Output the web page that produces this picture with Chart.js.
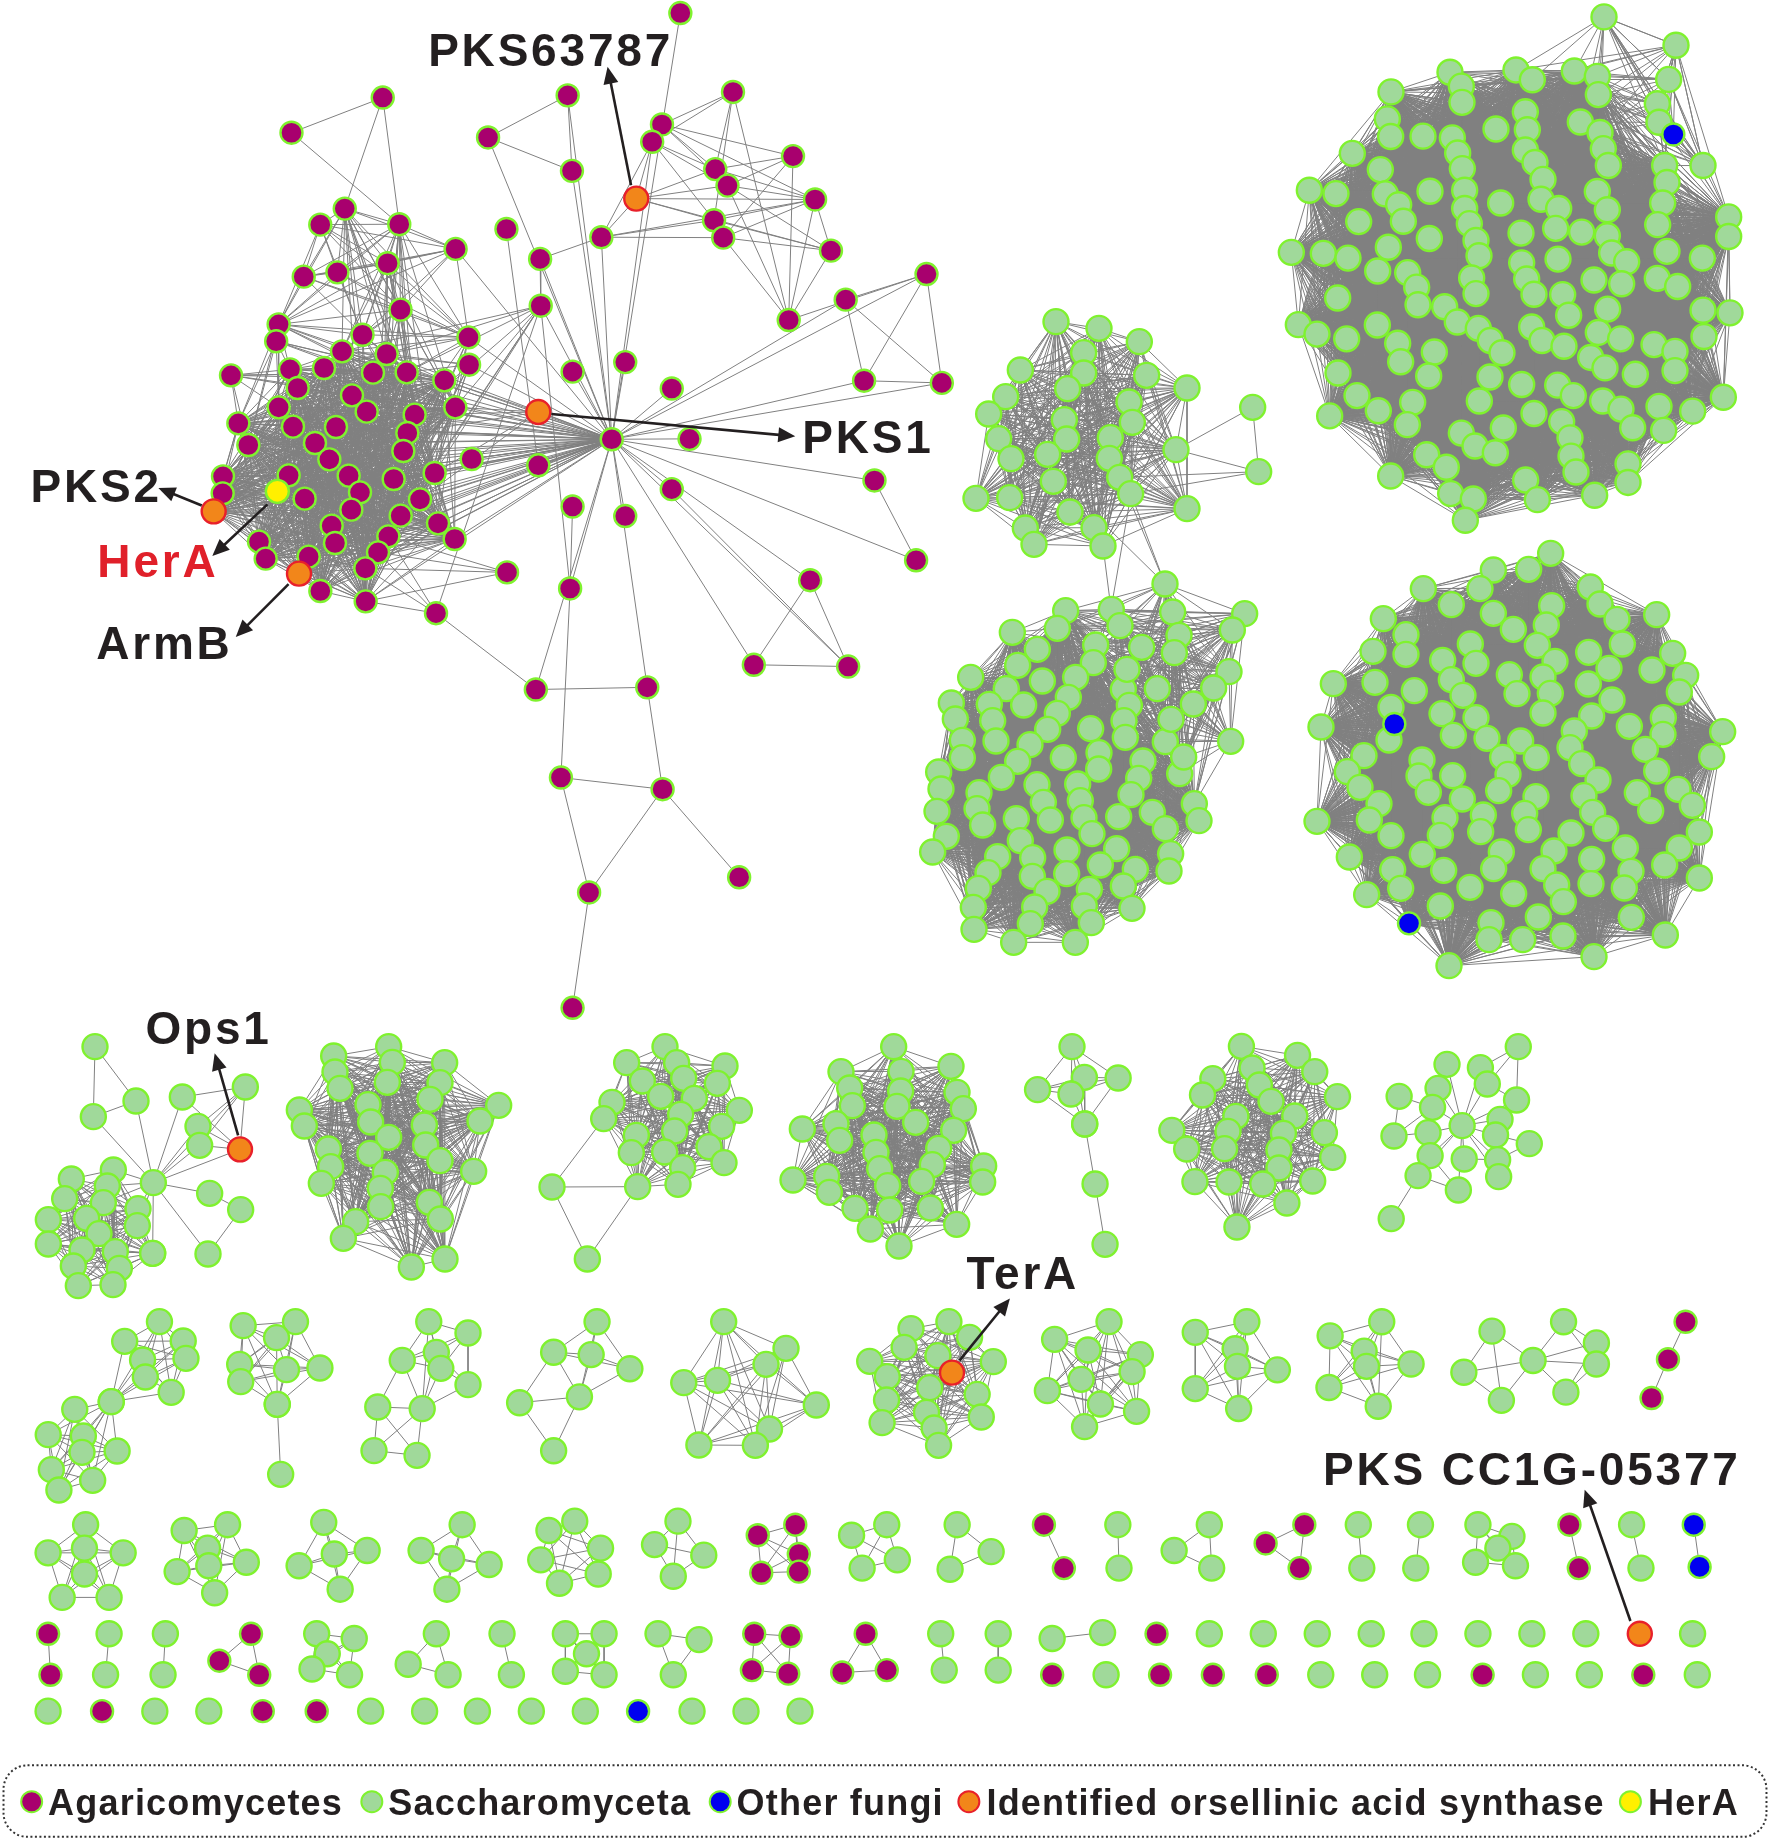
<!DOCTYPE html>
<html><head><meta charset="utf-8">
<style>html,body{margin:0;padding:0;background:#fff}#w{position:relative;width:1770px;height:1839px}#c{display:block}</style>
<script src="https://cdn.jsdelivr.net/npm/chart.js@4"></script>
</head><body><div id="w"><canvas id="c"></canvas></div>
<script>
const F_TOP={ox:0,oy:0,sx:1.633,sy:2.306}, F_CORE={ox:180,oy:300,sx:3,sy:3}, F_TR={ox:1260,oy:0,sx:3,sy:2.96},
 F_BR={ox:1290,oy:530,sx:3,sy:3}, F_MID={ox:900,oy:560,sx:3,sy:3}, F_SM={ox:950,oy:300,sx:3,sy:3},
 F_R1A={ox:20,oy:1020,sx:3,sy:3}, F_R1B={ox:530,oy:1020,sx:3,sy:3}, F_R1C={ox:1020,oy:1020,sx:2.904,sy:3},
 F_R2A={ox:20,oy:1300,sx:2.904,sy:3}, F_R2B={ox:650,oy:1290,sx:2.904,sy:3}, F_S={ox:0,oy:0,sx:1509/1770,sy:1568/1839};

const seriesNames=['Agaricomycetes','Saccharomyceta','Other fungi','Identified orsellinic acid synthase','HerA'];

const topNodes=[[1111,30],[625,225],[476,306],[927,220],[797,317],[934,394],[1197,212],[1081,287],[1065,327],[1295,360],
[1168,390],[1188,428],[1331,460],[1166,508],[1181,548],[1357,578],[982,547],[1513,632],[1381,691],[1288,738],
[1411,878],[1538,883],[827,528],[882,597],[883,705],[563,481],[523,518],[652,517],[744,574],[496,638],
[551,628],[633,607],[654,714],[935,857],[1021,835],[1097,896],[1126,1012],[879,1073],[1097,1128],[935,1168],
[1021,1190],[1428,1108],[1496,1292],[1323,1338],[1231,1533],[1385,1537],[828,1320],[931,1357],[712,1414],[875,1590],
[1057,1585],[916,1793],[1082,1820],[1207,2023],[962,2058],[935,2324],[999,1013],[455,748],[451,787],[592,772],
[765,778],[766,841]];
const topSpecial=[[1039,458],[879,950]];
const coreNodes=[[330,208],[486,154],[432,204],[620,162],[579,218],[680,217],[793,241],[353,264],[826,322],[296,322],
[516,286],[560,335],[704,344],[175,370],[339,380],[468,381],[682,399],[205,435],[405,429],[670,453],
[448,478],[129,529],[326,526],[506,527],[764,519],[641,537],[540,577],[128,580],[374,596],[720,598],
[514,629],[662,647],[774,670],[455,677],[824,717],[625,709],[237,725],[465,729],[594,757],[257,776],
[386,770],[556,805],[421,873],[557,904]];
const coreSide=[[875,477],[153,226]];
const coreOrsellinic=[[101,634],[357,821]];
const coreHerA=[[292,574]];
const topEdges=[[1,2],[1,25],[1,27],[2,27],[3,4],[3,5],[4,5],[6,7],[6,8],[6,10],[6,13],[6,19],[7,9],[7,10],[7,11],[7,12],[8,10],[8,11],[8,13],[8,16],
[9,10],[9,11],[9,19],[9,14],[10,11],[10,12],[11,12],[11,15],[11,19],[12,13],[12,14],[12,15],[12,16],[12,19],[13,14],[13,15],[13,16],[14,15],[14,16],[14,19],[15,19],
[62,8],[62,10],[62,11],[62,12],[62,15],[62,16],[62,13],[17,18],[17,19],[17,20],[17,21],[18,20],[18,21],[20,21],[41,42],[43,44],[43,45],[44,45],[38,45],
[22,37],[23,24],[23,16],[24,47],[24,48],[48,49],[49,50],[50,52],[51,52],[51,54],[52,54],[52,53],[54,55],[47,51],[39,47],[63,56]];
const hubSpokes=[0,3,4,5,8,16,17,18,20,21,23,24,28,33,34,35,36,37,38,40,41,42,43,44,45,47,49,50,60,61];
const upperGroup=[25,26,27,28,29,30,31,32,57,59,60];
const upperReach=[25,27,31,32,59,60,61,24];
const coreAnchors=[1,3,5,8,12,24,38,41];
const pks1Anchors=[6,8,12,16,24,29];
const lateralAnchors=[35,38,41,43];

const trMain=[[570,214],[768,207],[817,236],[943,210],[1012,226],[1015,280],[604,255],[606,303],[393,272],[796,331],
[382,352],[961,361],[392,404],[489,403],[708,382],[802,384],[577,408],[1020,392],[593,453],[796,444],[1030,440],
[277,454],[825,481],[607,499],[1214,490],[1045,490],[361,502],[849,531],[1221,540],[148,563],[228,573],[510,566],
[614,563],[376,574],[416,606],[1012,567],[843,590],[722,601],[1208,601],[614,617],[1042,621],[896,617],[1406,642],
[430,655],[296,656],[628,662],[1193,665],[887,676],[965,687],[1406,700],[508,706],[783,690],[648,712],[1042,698],
[385,732],[94,747],[190,750],[264,764],[657,757],[1055,749],[1100,775],[1221,744],[1327,764],[785,778],[894,767],
[443,807],[353,802],[635,823],[800,826],[1002,829],[1192,824],[1253,848],[1085,840],[470,850],[648,869],[822,871],
[233,882],[908,872],[474,902],[554,908],[1043,915],[1329,918],[1410,926],[926,933],[592,953],[352,962],[115,961],
[815,968],[655,972],[171,989],[1015,984],[1082,1003],[1332,996],[260,1003],[413,1016],[846,1008],[691,1008],[912,1025],
[1182,1020],[1245,1040],[523,1042],[726,1044],[422,1071],[992,1058],[1035,1089],[1245,1097],[234,1104],[506,1113],[690,1116],
[1126,1108],[785,1138],[893,1140],[940,1171],[1390,1176],[291,1171],[658,1187],[1028,1187],[458,1191],[1083,1211],[355,1216],
[1197,1203],[209,1231],[822,1224],[1298,1217],[905,1248],[442,1257],[1118,1266],[730,1267],[1211,1274],[604,1282],[930,1296],
[645,1320],[706,1340],[933,1350],[500,1346],[559,1383],[392,1409],[1104,1373],[948,1397],[797,1421],[1104,1428],[572,1461],
[640,1477],[832,1479],[1004,1466],[616,1540]];
const trFringe=[[1032,50],[1248,134],[1226,235],[1192,307],[1197,362],[1329,490]];
const trFringeAnchors=[[768,207],[817,236],[943,210],[1012,226],[1015,280],[961,361],[1020,392],[1406,642],[1214,490]];
const trOther=[[1240,398]];

const brMain=[[782,70],[610,120],[716,118],[400,176],[570,176],[901,171],[484,224],[930,222],[785,227],[1100,254],[280,266],
[610,250],[981,268],[769,285],[670,298],[348,314],[997,342],[742,346],[541,342],[249,364],[348,373],[896,367],[1148,370],
[458,391],[795,394],[558,400],[957,415],[1086,420],[130,461],[658,434],[759,441],[255,457],[1187,436],[484,449],[373,482],
[681,491],[895,462],[781,490],[1168,486],[519,496],[303,532],[966,510],[456,551],[759,549],[905,558],[558,563],[93,591],
[1120,563],[1018,589],[853,603],[490,616],[1119,613],[1298,605],[591,625],[297,630],[692,633],[840,653],[1066,658],[1265,680],
[222,677],[739,683],[638,682],[875,701],[396,690],[172,725],[1100,723],[488,737],[654,733],[387,738],[924,750],[1164,778],
[210,772],[415,787],[626,782],[1042,788],[882,797],[738,800],[267,821],[517,807],[704,850],[1207,826],[908,847],[1082,842],
[465,863],[580,855],[238,870],[81,874],[947,895],[715,899],[572,905],[451,916],[1228,906],[303,917],[843,909],[1006,954],
[792,963],[1168,954],[634,966],[397,973],[178,981],[905,988],[1124,1005],[1023,1024],[611,1016],[759,1016],[461,1021],[308,1019],
[800,1065],[1228,1044],[903,1061],[332,1075],[540,1072],[1003,1074],[671,1091],[230,1094],[820,1115],[451,1128],[745,1161],
[1024,1162],[603,1178],[1126,1215],[819,1218],[698,1229],[597,1229],[912,1280],[477,1307]];
const brOther=[[313,582],[357,1180]];

const midMain=[[497,152],[472,205],[337,217],[412,268],[587,255],[353,316],[580,308],[212,352],[427,363],[527,352],[319,386],
[670,388],[154,429],[268,433],[371,435],[505,412],[688,436],[166,477],[472,460],[278,482],[672,482],[443,508],[572,506],[187,541],
[288,543],[676,532],[796,545],[390,554],[597,578],[187,593],[490,593],[729,603],[353,604],[116,636],[596,627],[839,641],[304,652],
[716,655],[123,687],[411,674],[533,672],[237,698],[693,704],[541,722],[430,727],[883,731],[231,746],[111,754],[757,757],[656,770],
[451,780],[349,776],[552,773],[897,782],[248,795],[796,806],[139,829],[361,842],[576,821],[98,876],[293,890],[501,870],[650,866],
[398,893],[812,881],[601,915],[706,928],[264,938],[500,941],[807,933],[397,949],[441,994],[235,985],[670,978],[568,988],[404,1041],
[220,1042],[553,1038],[696,1045],[391,1091],[574,1088],[222,1108],[341,1147],[526,1147]];
const midFringe=[[795,72],[634,148],[818,156],[1034,161],[660,197],[837,226],[997,210],[725,262],[823,278],[681,328],[987,335],[772,386],[941,384],[880,432],[992,544],[813,478],[851,591]];
const midFringeAnchors=[[587,255],[580,308],[497,152],[472,205],[670,388],[688,436],[796,545],[839,641],[883,731],[672,482],[676,532]];

const smallMain=[[318,65],[447,85],[568,125],[401,158],[211,210],[590,226],[401,219],[711,264],[353,266],[167,290],[537,306],[116,342],
[343,359],[547,367],[350,417],[146,416],[481,413],[678,449],[183,476],[293,463],[478,475],[310,544],[509,532],[542,581],[78,595],[179,593],
[711,626],[360,636],[226,684],[432,683],[252,733],[459,738]];
const smallTail=[[908,322],[926,515],[678,449],[509,532],[542,581]];
const smallTailEdges=[[0,1],[0,2],[1,2],[1,3],[1,4]];
const bridgeLinks=[[1131,494,1165,584],[1120,477,1165,584],[1103,546,1111,609],[1131,494,1111,609],[1108,528,1165,584]];

const opsStar=[[225,80],[348,243],[220,290],[487,231],[676,201],[534,319],[539,376],[400,488],[569,520],[662,569],[564,702],[398,700]];
const opsStarEdges=[[0,1],[0,2],[1,2],[2,7],[1,7],[3,7],[5,7],[6,7],[4,7],[8,7],[10,7],[11,7],[3,4],[5,4],[6,4],[8,9],[9,10]];
const opsSynthase=[[660,388]];
const opsDense=[[280,450],[154,477],[262,498],[134,536],[250,548],[354,566],[85,599],[200,595],[352,617],[237,641],[85,672],[186,690],[286,695],[160,738],[298,745],[175,797],[279,794],[398,700]];
const opsHubLinks=[[280,450],[262,498],[354,566],[250,548],[352,617]];
const opsSynthaseLinks=[[487,231],[534,319],[539,376],[676,201],[400,488]];
const clusterB=[[941,108],[1106,80],[1117,127],[1274,128],[945,156],[960,205],[1102,187],[1260,188],[1436,256],[1230,238],[838,270],[1044,254],[853,318],[1380,303],[1052,306],[1213,315],[1106,352],[925,387],[1217,375],[1050,400],[932,440],[1260,422],[1361,454],[1096,457],[904,490],[1081,505],[1082,560],[1228,547],[1007,605],[1261,597],[970,655],[1275,717],[1174,741]];
const clusterE=[[405,80],[290,128],[440,128],[585,138],[337,183],[461,175],[562,190],[392,229],[493,235],[246,247],[628,271],[221,296],[452,283],[575,319],[434,333],[319,346],[304,398],[537,380],[404,396],[582,428],[458,443],[323,500],[444,493]];
const clusterETail=[[66,501],[172,717],[221,296],[323,500]];
const clusterETailEdges=[[0,1],[0,2],[0,3],[1,3]];
const clusterF=[[1091,80],[933,155],[1263,139],[1113,154],[959,204],[1112,213],[1281,217],[967,257],[1101,259],[1300,266],[1157,307],[817,327],[918,311],[1271,331],[929,361],[1032,345],[1226,385],[1038,397],[1207,434],[1361,438],[1049,446],[789,480],[890,469],[1175,484],[1358,486],[1073,497],[898,517],[975,565],[1201,564],[1079,570],[1280,613],[1021,627],[1107,678]];
const clusterG=[[151,80],[51,209],[187,172],[285,174],[148,222],[188,312]];
const clusterGTail=[[188,312],[218,492],[247,673]];
const chain3=[[0,1],[1,2]];
const clusterH=[[643,79],[806,106],[674,144],[856,155],[560,176],[695,195],[922,230],[530,225],[729,244],[627,289],[798,288],[441,331],[604,334],[765,340],[884,338],[484,387],[594,386],[752,390],[908,412],[752,444],[508,485],[607,486],[705,492],[850,483],[775,549],[630,621]];
const clusterI=[[1284,317],[1447,80],[1240,133],[1337,143],[1357,192],[1214,205],[1101,229],[1198,262],[1442,240],[1394,298],[1086,348],[1185,338],[1381,345],[1479,371],[1191,407],[1290,417],[1387,419],[1390,470],[1156,467],[1273,510],[1078,596]];
const clusterIEdges=[[0,2],[0,3],[0,4],[0,5],[0,7],[0,8],[0,9],[0,11],[0,12],[0,14],[0,15],[0,16],[0,17],[0,19],[0,18],[20,18],[18,19],[14,19],[10,6],[10,7],[10,11],[6,7],[1,3],[1,4],[1,8],[8,4],[13,12],[13,16],[16,15],[11,14],[9,12]];
const clusterJ=[[405,65],[304,124],[474,123],[356,180],[482,175],[364,231],[439,277],[265,305]];
const clusterJ2=[[265,305],[159,328],[82,404],[184,408],[180,457],[282,453],[91,509],[211,541],[113,570]];
const clusterK=[[648,77],[800,65],[745,113],[638,193],[641,245],[774,209],[871,204],[747,313]];
const clusterKTail=[[747,313],[757,523]];
const pairEdge=[[0,1]];
const clusterL=[[1187,65],[1301,99],[1209,157],[1110,181],[1222,205],[1301,254],[1039,321],[1168,326],[1028,452],[1153,466]];
const clusterLEdges=[[0,1],[0,2],[0,3],[0,4],[1,2],[1,3],[1,4],[1,5],[2,3],[2,4],[3,4],[2,5],[4,5],[7,5],[7,4],[7,2],[7,3],[7,0],[3,6],[6,7],[6,8],[6,9],[7,8],[7,9],[8,9]];
const clusterM=[[509,1127],[472,1153],[504,1155],[537,1167],[494,1191],[443,1196],[472,1237]];
const clusterMEdges=[[0,1],[0,2],[0,3],[0,4],[1,2],[1,3],[1,4],[2,3],[2,4],[3,4],[5,1],[5,4],[5,6],[6,4]];
const clusterN=[[214,95],[395,175],[337,223],[98,278],[196,271],[483,345],[347,417],[142,465],[306,466]];
const clusterO=[[758,116],[868,95],[928,142],[738,172],[836,197],[638,214],[997,215],[689,260],[812,293],[950,313],[687,330],[803,367],[962,381],[674,398],[825,414],[838,466]];
const terASynthase=[[877,248]];
const clusterP=[[1333,95],[1175,148],[1272,180],[1424,194],[1400,245],[1252,268],[1154,302],[1308,342],[1413,364],[1262,410]];
const clusterQ=[[1019,1136],[1063,1127],[1053,1150],[1055,1165],[1089,1168],[1019,1184],[1056,1201]];
const clusterR=[[1134,1139],[1178,1127],[1163,1152],[1165,1165],[1203,1163],[1133,1183],[1175,1199]];
const clusterS=[[1272,1135],[1333,1127],[1248,1170],[1307,1160],[1361,1145],[1361,1163],[1280,1194],[1335,1187]];
const clusterSEdges=[[0,2],[0,3],[0,6],[2,6],[2,3],[6,3],[1,3],[1,4],[1,5],[4,5],[7,3],[7,4],[7,5],[3,4],[3,5]];
const clusterT=[[1437,1127],[1422,1159],[1408,1192]];

const greenComplete=[
[[73,1300],[41,1324],[72,1320],[105,1324],[72,1342],[53,1362],[93,1362]],
[[157,1305],[194,1300],[177,1320],[151,1340],[210,1332],[178,1335],[183,1358]],
[[276,1298],[255,1335],[285,1325],[313,1322],[290,1355]],
[[394,1300],[359,1322],[385,1329],[417,1334],[381,1355]],
[[490,1297],[468,1305],[512,1320],[461,1330],[510,1342],[477,1350]],
[[578,1297],[558,1317],[600,1326],[574,1344]],
[[756,1300],[726,1309],[765,1330],[735,1337]],
[[816,1300],[845,1323],[810,1338]],
[[953,1300],[954,1337]],
[[1031,1300],[1001,1322],[1033,1337]],
[[1158,1300],[1161,1337]],
[[1211,1300],[1207,1337]],
[[1260,1300],[1289,1310],[1277,1320],[1258,1332],[1292,1335]],
[[1391,1300],[1399,1337]],
[[93,1393],[90,1428]],
[[141,1393],[139,1428]],
[[270,1393],[302,1397],[279,1410],[266,1423],[298,1428]],
[[372,1393],[348,1419],[382,1428]],
[[428,1393],[436,1428]],
[[482,1393],[515,1393],[500,1410],[482,1425],[515,1428]],
[[561,1393],[596,1398],[574,1428]],
[[802,1393],[805,1424]],
[[851,1393],[851,1424]],
[[897,1397],[940,1392]]];
const purpleComplete=[
[[646,1309],[678,1300],[681,1325],[649,1341],[681,1340]],
[[890,1300],[907,1337]],
[[1112,1300],[1079,1316],[1108,1337]],
[[1338,1300],[1346,1337]],
[[41,1393],[43,1428]],
[[214,1393],[187,1416],[221,1428]],
[[643,1393],[674,1395],[641,1424],[672,1427]],
[[738,1393],[718,1426],[756,1424]]];
const blueComplete=[[[1444,1300],[1449,1336]]];
const singlesGreen=[[1031,1393],[1077,1393],[1123,1393],[1169,1393],[1214,1393],[1260,1393],[1306,1393],[1352,1393],[1443,1393],
[943,1428],[1126,1428],[1172,1428],[1217,1428],[1309,1428],[1355,1428],[1447,1428],
[41,1459],[132,1459],[178,1459],[316,1459],[362,1459],[407,1459],[453,1459],[499,1459],[590,1459],[636,1459],[682,1459]];
const singlesPurple=[[986,1393],[897,1428],[989,1428],[1034,1428],[1080,1428],[1264,1428],[1401,1428],[87,1459],[224,1459],[270,1459]];
const singlesBlue=[[544,1459]];
const singlesSynthase=[[1398,1393]];

const labelTexts=['PKS63787','PKS1','PKS2','HerA','ArmB','Ops1','TerA','PKS CC1G-05377'];
const labelX=[365,684,26,83,82,124,824,1128];
const labelY=[56,386,428,492,562,890,1099,1266];
const arrowFrom=[[538,158],[470,353],[172,431],[228,430],[246,498],[203,968],[818,1160],[1390,1382]];
const arrowTo=[[518,57],[678,372],[135,416],[181,474],[201,543],[183,898],[861,1107],[1351,1270]];
const legendDotX=[27,317,614,826,1390];
const legendTextX=[41,331,628,841,1405];

// ---- assembling the graph ----
const place=(pts,f)=>pts.map(p=>({x:f.ox+p[0]/f.sx,y:f.oy+p[1]/f.sy}));
const nodes=[[],[],[],[],[]];
const edgeData=[];
function link(a,b){edgeData.push({x:a.x,y:a.y},{x:b.x,y:b.y},{x:null,y:null});}
function linkAll(P){for(let i=0;i<P.length;i++)for(let j=i+1;j<P.length;j++)link(P[i],P[j]);}
function linkBetween(A,B){A.forEach(a=>B.forEach(b=>link(a,b)));}
function linkPairs(P,E){E.forEach(e=>link(P[e[0]],P[e[1]]));}
function add(s,P){nodes[s].push(...P);return P;}

// top-left network
const T=place(topNodes,F_TOP), TS=place(topSpecial,F_TOP), TA=T.concat(TS);
const C=place(coreNodes,F_CORE), CS=place(coreSide,F_CORE), CO=place(coreOrsellinic,F_CORE), CH=place(coreHerA,F_CORE);
const denseCore=C.concat(CO,CH);
linkAll(denseCore);
linkBetween([T[56]],denseCore); linkBetween([T[56]],CS);
linkBetween([T[56]],hubSpokes.map(i=>T[i]));
linkPairs(TA,topEdges);
linkAll(upperGroup.map(i=>T[i]));
linkBetween(upperReach.map(i=>T[i]),coreAnchors.map(i=>C[i]));
linkBetween([TS[1]],pks1Anchors.map(i=>C[i]));
linkBetween([T[46],T[48]],lateralAnchors.map(i=>C[i]));
linkBetween([T[57],T[58],CS[1]],[C[0],C[4],C[5],C[6],C[8],C[13],C[9],C[17]]);
add(0,T); add(0,C); add(0,CS); add(3,TS); add(3,CO); add(4,CH);

// big clusters
const TRM=add(1,place(trMain,F_TR)); linkAll(TRM);
const TRF=add(1,place(trFringe,F_TR)); linkAll(TRF.concat(place(trFringeAnchors,F_TR)));
const TRO=add(2,place(trOther,F_TR)); linkAll(TRF.concat(TRO));
const BRM=add(1,place(brMain,F_BR)); const BRO=add(2,place(brOther,F_BR)); linkAll(BRM.concat(BRO));
const MM=add(1,place(midMain,F_MID)); linkAll(MM);
const MF=add(1,place(midFringe,F_MID)); linkAll(MF.concat(place(midFringeAnchors,F_MID)));
const SM=add(1,place(smallMain,F_SM)); linkAll(SM);
const ST=place(smallTail,F_SM); add(1,ST.slice(0,2)); linkPairs(ST,smallTailEdges);
bridgeLinks.forEach(b=>link({x:b[0],y:b[1]},{x:b[2],y:b[3]}));

// row 1
const OS=add(1,place(opsStar,F_R1A)); linkPairs(OS,opsStarEdges);
const OD=add(1,place(opsDense,F_R1A)); linkAll(OD);
const OY=add(3,place(opsSynthase,F_R1A)); linkBetween(OY,place(opsSynthaseLinks,F_R1A));
linkBetween([OS[7]],place(opsHubLinks,F_R1A));
linkAll(add(1,place(clusterB,F_R1A)));
linkAll(add(1,place(clusterE,F_R1B)));
const ET=place(clusterETail,F_R1B); add(1,ET.slice(0,2)); linkPairs(ET,clusterETailEdges);
linkAll(add(1,place(clusterF,F_R1B)));
linkAll(add(1,place(clusterG,F_R1C)));
linkPairs(add(1,place(clusterGTail,F_R1C)),chain3);
linkAll(add(1,place(clusterH,F_R1C)));
linkPairs(add(1,place(clusterI,F_R1C)),clusterIEdges);

// row 2
linkAll(add(1,place(clusterJ,F_R2A))); linkAll(add(1,place(clusterJ2,F_R2A)));
linkAll(add(1,place(clusterK,F_R2A))); linkPairs(add(1,place(clusterKTail,F_R2A)),pairEdge);
linkPairs(add(1,place(clusterL,F_R2A)),clusterLEdges);
linkPairs(add(1,place(clusterM,F_S)),clusterMEdges);
linkAll(add(1,place(clusterN,F_R2B)));
const CO2=add(1,place(clusterO,F_R2B)); const TY=add(3,place(terASynthase,F_R2B)); linkAll(CO2.concat(TY));
linkAll(add(1,place(clusterP,F_R2B)));
linkAll(add(1,place(clusterQ,F_S))); linkAll(add(1,place(clusterR,F_S)));
linkPairs(add(1,place(clusterS,F_S)),clusterSEdges);
linkPairs(add(0,place(clusterT,F_S)),chain3);

// small components
greenComplete.forEach(g=>linkAll(add(1,place(g,F_S))));
purpleComplete.forEach(g=>linkAll(add(0,place(g,F_S))));
blueComplete.forEach(g=>linkAll(add(2,place(g,F_S))));
add(1,place(singlesGreen,F_S)); add(0,place(singlesPurple,F_S)); add(2,place(singlesBlue,F_S)); add(3,place(singlesSynthase,F_S));

const fills=['#A8006E','#A0D99A','#0000F0','#F2861A','#FFF000'];
const rims=['#7FF22E','#7FF22E','#7FF22E','#E8202A','#7FF22E'];
const radii=[11,12.5,11,12,11.5];

const ink='#231F20';
const K=1770/1509;
const notes={id:'notes',afterDatasetsDraw(ch){
 const g=ch.ctx, sx=ch.scales.x, sy=ch.scales.y;
 const X=v=>sx.getPixelForValue(v*K), Y=v=>sy.getPixelForValue(v*K);
 g.save();
 // arrows
 g.strokeStyle=ink; g.fillStyle=ink; g.lineWidth=2.6;
 arrowFrom.forEach((a,i)=>{
  const x0=X(a[0]),y0=Y(a[1]),x1=X(arrowTo[i][0]),y1=Y(arrowTo[i][1]);
  const t=Math.atan2(y1-y0,x1-x0),L=17,W=7.5;
  g.beginPath();g.moveTo(x0,y0);g.lineTo(x1-L*.8*Math.cos(t),y1-L*.8*Math.sin(t));g.stroke();
  g.beginPath();g.moveTo(x1,y1);
  g.lineTo(x1-L*Math.cos(t)+W*Math.sin(t),y1-L*Math.sin(t)-W*Math.cos(t));
  g.lineTo(x1-L*Math.cos(t)-W*Math.sin(t),y1-L*Math.sin(t)+W*Math.cos(t));
  g.closePath();g.fill();
 });
 // labels
 g.textBaseline='alphabetic'; g.textAlign='left';
 g.font='bold 46px "Liberation Sans"'; g.letterSpacing='2.8px';
 labelTexts.forEach((t,i)=>{g.fillStyle=t==='HerA'?'#E0202A':ink;g.fillText(t,X(labelX[i]),Y(labelY[i]));});
 // legend
 g.letterSpacing='1.2px'; g.font='bold 36px "Liberation Sans"';
 seriesNames.forEach((t,i)=>{
  g.beginPath();g.arc(X(legendDotX[i]),Y(1536),10.5,0,Math.PI*2);g.fillStyle=fills[i];g.fill();
  g.lineWidth=2;g.strokeStyle=rims[i];g.stroke();
  g.fillStyle=ink;g.fillText(t,X(legendTextX[i]),Y(1547));
 });
 g.letterSpacing='0px';
 g.beginPath();g.roundRect(X(3),Y(1505),X(1506)-X(3),Y(1566)-Y(1505),24);
 g.lineWidth=2;g.strokeStyle='#333';g.setLineDash([2,2.5]);g.stroke();
 g.restore();
}};

new Chart(document.getElementById('c'),{
 type:'scatter',
 data:{datasets:[
  ...seriesNames.map((n,i)=>({label:n,data:nodes[i],order:5-i,pointRadius:radii[i],pointBorderWidth:2.4,
     pointBackgroundColor:fills[i],pointBorderColor:rims[i],showLine:false,clip:false})),
  {label:'edges',data:edgeData,order:20,showLine:true,spanGaps:false,pointRadius:0,borderColor:'#808080',borderWidth:1,clip:false}
 ]},
 options:{responsive:true,maintainAspectRatio:false,animation:false,events:[],
  layout:{padding:0,autoPadding:false},
  plugins:{legend:{display:false},tooltip:{enabled:false}},
  scales:{x:{type:'linear',display:false,min:0,max:1770},y:{type:'linear',display:false,reverse:true,min:0,max:1839}}
 },
 plugins:[notes]
});
</script>
</body></html>
